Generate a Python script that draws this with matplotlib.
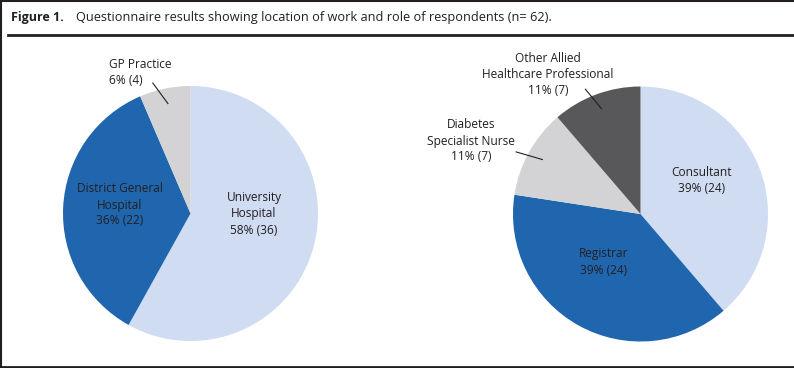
import numpy as np
import matplotlib
matplotlib.use("Agg")
import matplotlib.pyplot as plt
from matplotlib.lines import Line2D

plt.rcParams['font.family'] = ['Open Sans', 'DejaVu Sans']

# ---- data ----
work_labels = ["University\nHospital", "District General\nHospital", "GP Practice"]
work_counts = [36, 22, 4]
work_pcts = [58, 36, 6]
role_labels = ["Consultant", "Registrar", "Diabetes\nSpecialist Nurse",
               "Other Allied\nHealthcare Professional"]
role_counts = [24, 24, 7, 7]
role_pcts = [39, 39, 11, 11]

colors_work = ["#CFDCF2", "#1F66AF", "#D3D3D5"]
colors_role = ["#CFDCF2", "#1F66AF", "#D3D3D5", "#58585A"]

W, H = 794, 368
fig = plt.figure(figsize=(W / 100, H / 100), dpi=100)
ax = fig.add_axes([0, 0, 1, 1])

def Y(y):
    return H - y

TXT = "#231F20"
FS = 8.6
LS = 1.3

def lab(name, p, c):
    return f"{name}\n{p}% ({c})"

R = 127.5
c1 = (190.5, Y(213.5))
c2 = (640.5, Y(214))

w1, _ = ax.pie(work_counts, colors=colors_work, startangle=90, counterclock=False,
               center=c1, radius=R, frame=True,
               wedgeprops=dict(linewidth=0))
w2, _ = ax.pie(role_counts, colors=colors_role, startangle=90, counterclock=False,
               center=c2, radius=R, frame=True,
               wedgeprops=dict(linewidth=0))
ax.set_xlim(0, W)
ax.set_ylim(0, H)
ax.set_aspect('equal')
ax.axis('off')

def mid_angle(w):
    return np.deg2rad((w.theta1 + w.theta2) / 2)

kw = dict(fontsize=FS, color=TXT, linespacing=LS, va='center')
# inside labels
ax.text(254, Y(214), lab(work_labels[0], work_pcts[0], work_counts[0]), ha='center', **kw)
ax.text(120, Y(205), lab(work_labels[1], work_pcts[1], work_counts[1]), ha='center', **kw)
ax.text(702, Y(181), lab(role_labels[0], role_pcts[0], role_counts[0]), ha='center', **kw)
ax.text(604, Y(262), lab(role_labels[1], role_pcts[1], role_counts[1]), ha='center', **kw)

# outside labels
ax.text(109, Y(72), lab(work_labels[2], work_pcts[2], work_counts[2]), ha='left', **kw)
ax.text(471, Y(141), lab(role_labels[2], role_pcts[2], role_counts[2]), ha='center', **kw)
ax.text(548, Y(75), lab(role_labels[3], role_pcts[3], role_counts[3]), ha='center', **kw)

def leader(w, center, dang, rout):
    a = mid_angle(w)
    a2 = a + np.deg2rad(dang)
    x1 = center[0] + 0.88 * R * np.cos(a)
    y1 = center[1] + 0.88 * R * np.sin(a)
    x2 = center[0] + rout * R * np.cos(a2)
    y2 = center[1] + rout * R * np.sin(a2)
    ax.plot([x1, x2], [y1, y2], color=TXT, lw=0.8)

leader(w1[2], c1, 4.5, 1.065)
leader(w2[2], c2, 2.5, 1.09)
leader(w2[3], c2, 3.5, 1.07)

# header
fig.text(11 / W, 1 - 17 / H, "Figure 1.", fontsize=9, fontweight='bold', color=TXT,
         va='center', ha='left')
fig.text(76 / W, 1 - 17 / H,
         "Questionnaire results showing location of work and role of respondents (n= 62).",
         fontsize=9.2, color=TXT, va='center', ha='left')

# frame lines
fig.add_artist(Line2D([8 / W, 1], [1 - 35 / H] * 2, color=TXT, lw=2))
fig.add_artist(Line2D([0.5 / W, 0.5 / W], [0, 1], color=TXT, lw=1.5))
fig.add_artist(Line2D([0, 1], [1 - 0.5 / H] * 2, color=TXT, lw=1.5))
fig.add_artist(Line2D([0, 1], [0.8 / H] * 2, color=TXT, lw=2))

fig.savefig("out.png", dpi=100)
